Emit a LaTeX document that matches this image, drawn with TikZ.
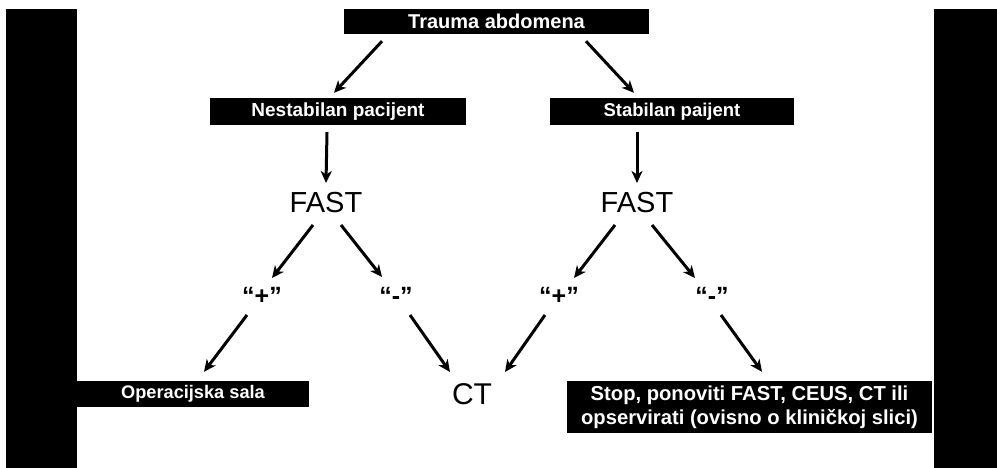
\documentclass[tikz,border=0pt]{standalone}
\usepackage{fontspec}
\setmainfont{Liberation Sans}
\usetikzlibrary{calc,arrows.meta}
\tikzset{
  blackbox/.style={fill=black,text=white,font=\bfseries,inner sep=0pt,anchor=center},
  plain/.style={inner sep=0pt,anchor=center},
  quote/.style={inner sep=0pt,anchor=center,font=\bfseries\fontsize{25}{30}\selectfont},
  arr/.style={line width=3pt,-{Stealth[length=12pt,width=11pt,inset=3.5pt]}}
}
\begin{document}
\begin{tikzpicture}[x=1pt,y=-1pt]
\useasboundingbox (0,0) rectangle (997,468);
\fill[white] (0,0) rectangle (997,468);
% side bars
\fill[black] (6,9) rectangle (77,468);
\fill[black] (934,9) rectangle (997,468);
% boxes
\node[blackbox,minimum width=305pt,minimum height=25pt,font=\bfseries\fontsize{20}{24}\selectfont] (trauma) at (496.5,21.5) {Trauma abdomena};
\node[blackbox,minimum width=256pt,minimum height=27pt,font=\bfseries\fontsize{19}{23}\selectfont] (nest) at (338,111.5) {Nestabilan pacijent};
\node[blackbox,minimum width=244pt,minimum height=27pt,font=\bfseries\fontsize{18.5}{23}\selectfont] (stab) at (672,111.5) {Stabilan paijent};
\node[plain,font=\fontsize{29}{34}\selectfont] (fastL) at (326,203) {FAST};
\node[plain,font=\fontsize{29}{34}\selectfont] (fastR) at (637,203) {FAST};
\node[quote] (plusL) at (262,296) {“+”};
\node[quote] (minusL) at (396,296) {“-”};
\node[quote] (plusR) at (559,296) {“+”};
\node[quote] (minusR) at (712,296) {“-”};
\node[blackbox,minimum width=232pt,minimum height=26pt,font=\bfseries\fontsize{18.2}{22}\selectfont] (op) at (193,394) {Operacijska sala};
\node[plain,font=\fontsize{30}{34}\selectfont] (ct) at (472,394) {CT};
\node[blackbox,minimum width=365pt,minimum height=52pt,align=center,font=\bfseries\fontsize{20.2}{24}\selectfont] (stop) at (749.5,407) {Stop, ponoviti FAST, CEUS, CT ili\\opservirati (ovisno o kliničkoj slici)};
% arrows
\draw[arr] ($(trauma.south)+(-114.5,7)$) -- ($(nest.north)+(-4,-5)$);
\draw[arr] ($(trauma.south)+(89.5,7)$) -- ($(stab.north)+(-38,-5)$);
\draw[arr] ($(nest.south)+(-11,7)$) -- ($(fastL.center)+(0,-20)$);
\draw[arr] ($(stab.south)+(-35,7)$) -- ($(fastR.center)+(0,-20)$);
\draw[arr] ($(fastL.center)+(-13,22)$) -- ($(plusL.center)+(10,-18)$);
\draw[arr] ($(fastL.center)+(15,22)$) -- ($(minusL.center)+(-14,-19)$);
\draw[arr] ($(fastR.center)+(-22,22)$) -- ($(plusR.center)+(15,-18)$);
\draw[arr] ($(fastR.center)+(15,22)$) -- ($(minusR.center)+(-17,-18)$);
\draw[arr] ($(plusL.center)+(-15,19)$) -- ($(op.north)+(11,-9)$);
\draw[arr] ($(minusL.center)+(14,19)$) -- ($(ct.center)+(-22,-22)$);
\draw[arr] ($(plusR.center)+(-14,19)$) -- ($(ct.center)+(33,-22)$);
\draw[arr] ($(minusR.center)+(9,19)$) -- ($(stop.north)+(12.5,-9)$);
\end{tikzpicture}
\end{document}
